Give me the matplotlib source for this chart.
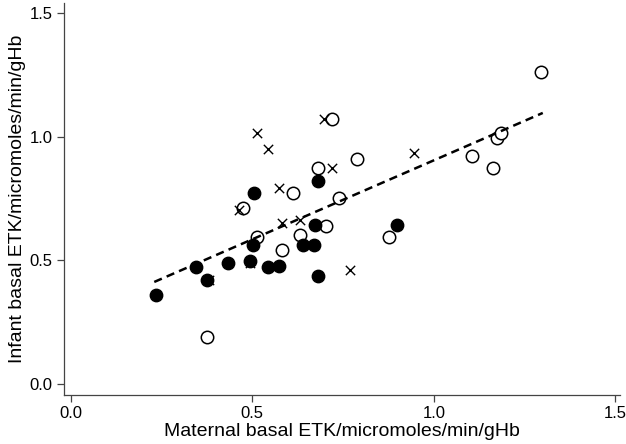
import numpy as np
import matplotlib
matplotlib.use("Agg")
import matplotlib.pyplot as plt

plt.rcParams['font.family'] = ['Liberation Sans', 'DejaVu Sans']

# filled circles
filled_x = [0.234, 0.344, 0.375, 0.433, 0.493, 0.501, 0.504, 0.543, 0.573,
            0.639, 0.669, 0.672, 0.680, 0.680, 0.898]
filled_y = [0.359, 0.472, 0.419, 0.488, 0.496, 0.561, 0.772, 0.472, 0.476,
            0.561, 0.561, 0.642, 0.820, 0.436, 0.642]

# open circles
open_x = [0.374, 0.474, 0.513, 0.582, 0.611, 0.631, 0.681, 0.702, 0.720,
          0.739, 0.789, 0.877, 1.104, 1.163, 1.173, 1.184, 1.294]
open_y = [0.190, 0.711, 0.593, 0.541, 0.771, 0.602, 0.872, 0.640, 1.072,
          0.751, 0.910, 0.593, 0.922, 0.872, 0.993, 1.014, 1.261]

# crosses
cross_x = [0.697, 0.513, 0.544, 0.573, 0.720, 0.946, 0.464, 0.582, 0.631,
           0.769, 0.380, 0.493]
cross_y = [1.072, 1.014, 0.950, 0.791, 0.872, 0.933, 0.703, 0.649, 0.663,
           0.460, 0.420, 0.490]

# fitted line
fit_slope = 0.639
fit_intercept = 0.265
fit_range = [0.23, 1.30]

xticks = [0.0, 0.5, 1.0, 1.5]
yticks = [0.0, 0.5, 1.0, 1.5]

fig = plt.figure(figsize=(6.26, 4.44), dpi=100)
ax = fig.add_axes([0.102, 0.110, 0.888, 0.883])

ax.scatter(open_x, open_y, s=80, facecolors='white', edgecolors='black',
           linewidths=1.1, zorder=2)
ax.scatter(cross_x, cross_y, s=45, marker='x', color='black',
           linewidths=1.0, zorder=3)
ax.scatter(filled_x, filled_y, s=80, color='black', zorder=4)

fx = np.array(fit_range)
ax.plot(fx, fit_intercept + fit_slope * fx, color='black', linestyle=(0, (3.3, 2.1)),
        linewidth=1.8, zorder=5)

ax.set_xlim(-0.019, 1.512)
ax.set_ylim(-0.046, 1.54)
ax.set_xticks(xticks)
ax.set_yticks(yticks)
ax.set_xticklabels([f'{t:.1f}' for t in xticks])
ax.set_yticklabels([f'{t:.1f}' for t in yticks])

for side in ['top', 'right']:
    ax.spines[side].set_visible(False)
for side in ['left', 'bottom']:
    ax.spines[side].set_color('#444444')
    ax.spines[side].set_linewidth(0.9)

ax.tick_params(direction='out', length=5, width=0.9, color='#444444',
               labelsize=12, pad=3)

ax.set_xlabel('Maternal basal ETK/micromoles/min/gHb', fontsize=14, labelpad=1)
ax.set_ylabel('Infant basal ETK/micromoles/min/gHb', fontsize=14, labelpad=3)

fig.savefig('out.png', dpi=100)
